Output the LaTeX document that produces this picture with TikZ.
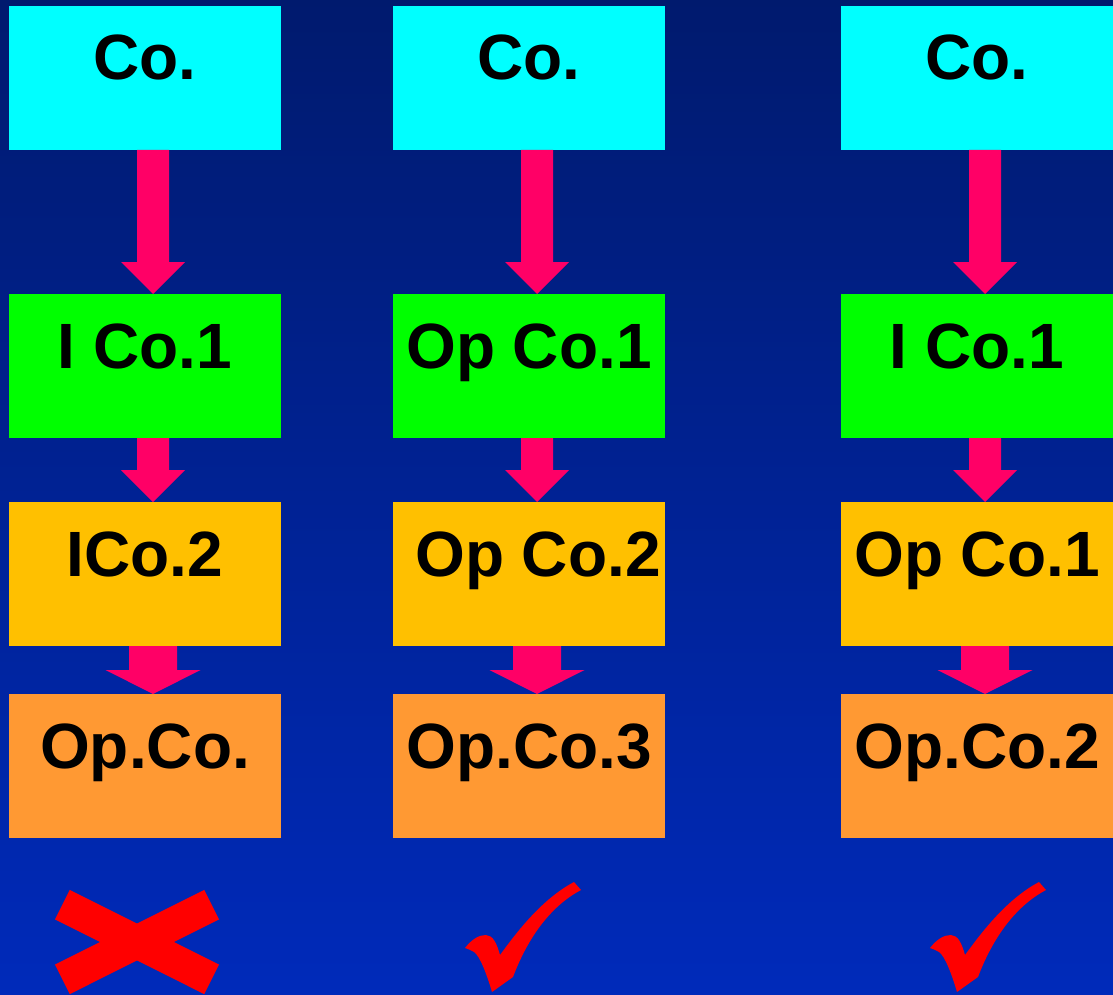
\documentclass[tikz,border=0pt]{standalone}
\usepackage{fontspec}
\setmainfont{Liberation Sans}
\usetikzlibrary{calc}

\definecolor{bgtop}{RGB}{0,26,110}
\definecolor{bgbot}{RGB}{0,42,186}
\definecolor{boxcyan}{RGB}{0,255,255}
\definecolor{boxgreen}{RGB}{0,255,0}
\definecolor{boxgold}{RGB}{255,192,0}
\definecolor{boxorange}{RGB}{255,153,51}
\definecolor{arrowpink}{RGB}{255,0,102}
\definecolor{markred}{RGB}{255,0,0}

% block arrow from the bottom of one box to the top of the next
% #1 from, #2 to, #3 half shaft width, #4 half head width, #5 head length
\newcommand{\blockarrow}[5]{%
  \fill[arrowpink]
    ($(#1.south)+(8-#3,0)$) -- ($(#2.north)+(8-#3,#5)$) --
    ($(#2.north)+(8-#4,#5)$) -- ($(#2.north)+(8,0)$) --
    ($(#2.north)+(8+#4,#5)$) -- ($(#2.north)+(8+#3,#5)$) --
    ($(#1.south)+(8+#3,0)$) -- cycle;}

% tick mark, shifted horizontally by #1
\newcommand{\tickmark}[1]{%
  \fill[markred, xshift=#1]
    (465,-948) .. controls (472,-939) and (479,-935) .. (486,-935)
    .. controls (493,-935) and (497,-944) .. (500,-955)
    .. controls (514,-936) and (540,-900) .. (574,-882)
    -- (581,-890)
    .. controls (549,-907) and (527,-940) .. (513,-977)
    -- (492,-992)
    .. controls (487,-975) and (480,-956) .. (474,-952)
    .. controls (471,-950) and (468,-949) .. (465,-948) -- cycle;}

\tikzset{
  box/.style={rectangle, draw=none, inner sep=0pt, outer sep=0pt,
    minimum width=272pt, minimum height=144pt, anchor=north west},
  lbl/.style={anchor=base, inner sep=0pt, text=black,
    font=\fontsize{64}{70}\selectfont\bfseries},
}

\begin{document}
\begin{tikzpicture}[x=1pt, y=1pt]
  \useasboundingbox (0,0) rectangle (1113,-995);
  \shade[top color=bgtop, bottom color=bgbot] (0,0) rectangle (1113,-995);

  % column 1
  \node[box, fill=boxcyan]   (a1) at (9,-6)   {};
  \node[box, fill=boxgreen]  (a2) at (9,-294) {};
  \node[box, fill=boxgold]   (a3) at (9,-502) {};
  \node[box, fill=boxorange] (a4) at (9,-694) {};
  \node[lbl] (ta1) at ($(a1.north)+(0,-74)$) {Co.};
  \node[lbl] (ta2) at ($(a2.north)+(0,-74)$) {I Co.1};
  \node[lbl] (ta3) at ($(a3.north)+(0,-74)$) {ICo.2};
  \node[lbl] (ta4) at ($(a4.north)+(0,-74)$) {Op.Co.};

  % column 2
  \node[box, fill=boxcyan]   (b1) at (393,-6)   {};
  \node[box, fill=boxgreen]  (b2) at (393,-294) {};
  \node[box, fill=boxgold]   (b3) at (393,-502) {};
  \node[box, fill=boxorange] (b4) at (393,-694) {};
  \node[lbl] (tb1) at ($(b1.north)+(0,-74)$) {Co.};
  \node[lbl] (tb2) at ($(b2.north)+(0,-74)$) {Op Co.1};
  \node[lbl] (tb3) at ($(b3.north)+(9,-74)$) {Op Co.2};
  \node[lbl] (tb4) at ($(b4.north)+(0,-74)$) {Op.Co.3};

  % column 3
  \node[box, fill=boxcyan]   (c1) at (841,-6)   {};
  \node[box, fill=boxgreen]  (c2) at (841,-294) {};
  \node[box, fill=boxgold]   (c3) at (841,-502) {};
  \node[box, fill=boxorange] (c4) at (841,-694) {};
  \node[lbl] (tc1) at ($(c1.north)+(0,-74)$) {Co.};
  \node[lbl] (tc2) at ($(c2.north)+(0,-74)$) {I Co.1};
  \node[lbl] (tc3) at ($(c3.north)+(0,-74)$) {Op Co.1};
  \node[lbl] (tc4) at ($(c4.north)+(0,-74)$) {Op.Co.2};

  % arrows
  \foreach \c in {a,b,c}{
    \blockarrow{\c1}{\c2}{16}{32}{32}
    \blockarrow{\c2}{\c3}{16}{32}{32}
    \blockarrow{\c3}{\c4}{24}{47.5}{24}
  }

  % cross under column 1
  \fill[markred, rotate around={-26.6:(137,-942)}]
    (53.5,-958.5) rectangle (220.5,-925.5);
  \fill[markred, rotate around={26.6:(137,-942)}]
    (53.5,-958.5) rectangle (220.5,-925.5);

  % ticks under columns 2 and 3
  \tickmark{0pt}
  \tickmark{465pt}
\end{tikzpicture}
\end{document}
